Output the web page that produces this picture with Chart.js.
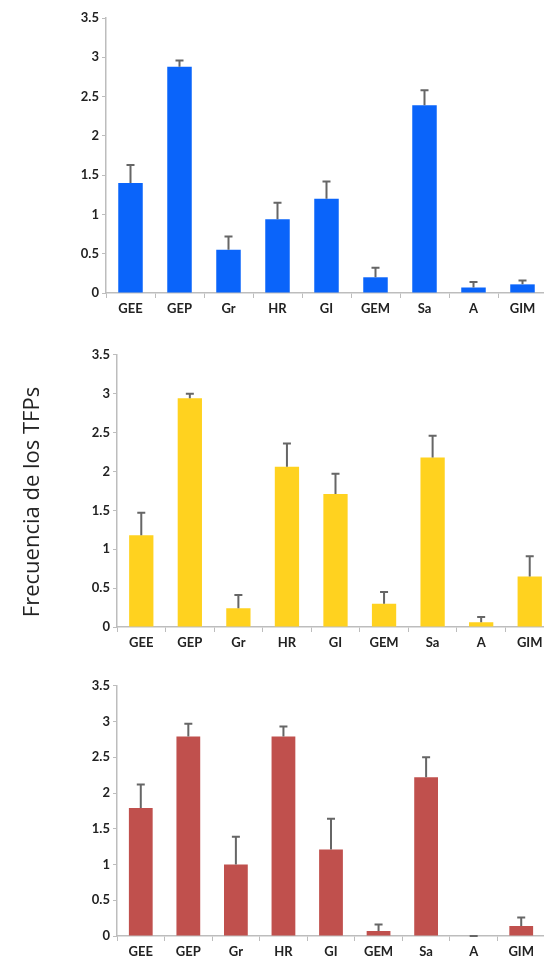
<!DOCTYPE html>
<html>
<head>
<meta charset="utf-8">
<script src="https://cdn.jsdelivr.net/npm/chart.js@4.4.0/dist/chart.umd.min.js"></script>
<style>
  html, body { margin: 0; padding: 0; background: #fff; width: 544px; height: 960px; overflow: hidden; }
  .panel { position: absolute; left: 0; width: 560px; }
  #ytitle {
    position: absolute; left: 30px; top: 502px; width: 300px; margin-left: -150px; margin-top: -14px;
    height: 28px; line-height: 28px; text-align: center; transform: rotate(-90deg);
    font-family: "Open Sans", sans-serif; font-size: 22px; color: #222; white-space: nowrap;
  }
</style>
</head>
<body>
<div class="panel" style="top:0;height:330px"><canvas id="c1"></canvas></div>
<div class="panel" style="top:344px;height:320px"><canvas id="c2"></canvas></div>
<div class="panel" style="top:675px;height:285px"><canvas id="c3"></canvas></div>
<div id="ytitle">Frecuencia de los TFPs</div>
<script>
  var labels = ['GEE','GEP','Gr','HR','GI','GEM','Sa','A','GIM'];

  var blueVals   = [1.40, 2.88, 0.55, 0.94, 1.20, 0.20, 2.39, 0.07, 0.11];
  var blueErr    = [0.23, 0.08, 0.17, 0.21, 0.22, 0.12, 0.19, 0.07, 0.05];

  var yellowVals = [1.18, 2.94, 0.24, 2.06, 1.71, 0.30, 2.18, 0.06, 0.65];
  var yellowErr  = [0.29, 0.06, 0.17, 0.30, 0.26, 0.15, 0.28, 0.07, 0.26];

  var redVals    = [1.79, 2.79, 1.00, 2.79, 1.21, 0.07, 2.22, 0.00, 0.14];
  var redErr     = [0.33, 0.18, 0.39, 0.14, 0.43, 0.09, 0.28, 0.00, 0.12];

  var yTicks = [0, 0.5, 1, 1.5, 2, 2.5, 3, 3.5];

  var tickFont = { family: 'Lato', size: 13, weight: 'bold' };
  var axisGray = '#bdbdbd';

  var errorBars = {
    id: 'errorBars',
    afterDatasetsDraw: function(chart){
      var ctx = chart.ctx, y = chart.scales.y;
      chart.data.datasets.forEach(function(ds, di){
        var meta = chart.getDatasetMeta(di);
        meta.data.forEach(function(bar, i){
          var top = y.getPixelForValue(ds.data[i] + ds.err[i]);
          ctx.save();
          ctx.strokeStyle = '#666';
          ctx.lineWidth = 2;
          ctx.beginPath();
          ctx.moveTo(bar.x, bar.y);
          ctx.lineTo(bar.x, top);
          ctx.moveTo(bar.x - 4, top);
          ctx.lineTo(bar.x + 4, top);
          ctx.stroke();
          ctx.restore();
        });
      });
    }
  };

  function makeChart(id, vals, errs, color, o){
    return new Chart(document.getElementById(id).getContext('2d'), {
      type: 'bar',
      data: { labels: labels, datasets: [{ data: vals, err: errs, backgroundColor: color,
        borderWidth: 0, categoryPercentage: 1, barPercentage: 0.5 }] },
      options: {
        responsive: true, maintainAspectRatio: false, animation: false,
        layout: { padding: { top: o.top, right: o.right, left: 0, bottom: 0 } },
        plugins: { legend: { display: false }, tooltip: { enabled: false } },
        scales: {
          x: {
            grid: { offset: true, drawOnChartArea: false, drawTicks: true, tickLength: 5, color: axisGray },
            border: { color: axisGray, width: 1.5 },
            ticks: { font: tickFont, color: '#222', padding: 3, autoSkip: false, maxRotation: 0 },
            afterFit: function(s){ s.height = o.xh; }
          },
          y: {
            min: 0, max: 3.5,
            afterBuildTicks: function(s){ s.ticks = yTicks.map(function(v){ return { value: v }; }); },
            grid: { drawOnChartArea: false, drawTicks: true, tickLength: 4, color: axisGray },
            border: { color: axisGray, width: 1.5 },
            ticks: { font: tickFont, color: '#222', padding: 3, callback: function(v){ return String(v); } },
            afterFit: function(s){ s.width = o.yw; }
          }
        }
      },
      plugins: [errorBars]
    });
  }

  makeChart('c1', blueVals, blueErr, '#0a64fa', { top: 18, right: 13, xh: 37, yw: 106 });
  makeChart('c2', yellowVals, yellowErr, '#ffd21f', { top: 10, right: 6, xh: 37, yw: 117 });
  makeChart('c3', redVals, redErr, '#c0504d', { top: 10, right: 15, xh: 24, yw: 117 });
</script>
</body>
</html>
